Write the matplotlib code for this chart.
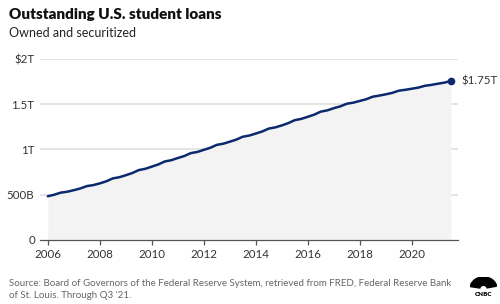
import matplotlib
matplotlib.use('Agg')
import matplotlib.pyplot as plt
from matplotlib.patches import Wedge

# Student loans owned and securitized, billions of dollars, quarterly 2006 Q1 - 2021 Q3
years = list(range(2006, 2022))
loans = [
    483, 500, 523, 533,
    550, 569, 595, 606,
    625, 648, 680, 693,
    715, 739, 772, 786,
    810, 834, 867, 881,
    905, 927, 959, 972,
    995, 1018, 1050, 1063,
    1085, 1108, 1140, 1153,
    1175, 1198, 1230, 1243,
    1265, 1290, 1323, 1337,
    1360, 1384, 1417, 1431,
    1455, 1475, 1504, 1516,
    1535, 1554, 1582, 1594,
    1608, 1624, 1648, 1658,
    1670, 1682, 1702, 1712,
    1725, 1737, 1755,
]
dates = [y + q / 4 for y in years for q in range(4)][:len(loans)]

y_ticks = [0, 500, 1000, 1500, 2000]
y_labels = ['0', '500B', '1T', '1.5T', '$2T']
x_ticks = list(range(2006, 2021, 2))
end_label = '$1.75T'

plt.rcParams['font.family'] = ['Lato', 'DejaVu Sans']
navy = '#0b2a6e'
grey_text = '#333333'

fig = plt.figure(figsize=(5, 3.04), dpi=100)
ax = fig.add_axes([0.08, 0.2105, 0.836, 0.596])

ax.fill_between(dates, loans, 0, color='#f3f3f3', lw=0, zorder=1)
ax.plot(dates, loans, color=navy, lw=1.8, zorder=3, solid_capstyle='round')
ax.plot(dates[-1], loans[-1], 'o', color=navy, ms=4.5, zorder=4)
ax.annotate(end_label, xy=(dates[-1], loans[-1]), xytext=(8, 0),
            textcoords='offset points', va='center', ha='left',
            fontsize=8.3, color=grey_text)

ax.set_xlim(2005.7, 2021.78)
ax.set_ylim(0, 2000)
ax.set_yticks(y_ticks[1:])
ax.set_yticklabels(y_labels[1:])
ax.set_xticks(x_ticks)
ax.set_xticklabels([str(x) for x in x_ticks])
ax.grid(axis='y', color='#e2e2e2', lw=1.3, zorder=0)
ax.set_axisbelow(True)

for s in ['top', 'right', 'left']:
    ax.spines[s].set_visible(False)
ax.spines['bottom'].set_color('#555555')
ax.spines['bottom'].set_linewidth(0.9)
ax.tick_params(axis='y', length=0, pad=4, labelsize=8.3, labelcolor=grey_text)
ax.tick_params(axis='x', length=3.5, width=0.9, color='#555555', pad=3,
               labelsize=8.3, labelcolor=grey_text)
# zero label sits on the axis line
ax.text(-0.012, 0, y_labels[0], transform=ax.get_yaxis_transform(),
        ha='right', va='center', fontsize=8.3, color=grey_text)

fig.text(0.018, 0.953, 'Outstanding U.S. student loans', fontsize=11,
         fontweight='heavy', color='#111111', va='center')
fig.text(0.018, 0.893, 'Owned and securitized', fontsize=9,
         color='#222222', va='center')

fig.text(0.018, 0.047, 'Source: Board of Governors of the Federal Reserve System, '
         'retrieved from FRED, Federal Reserve Bank\nof St. Louis. Through Q3 \'21.',
         fontsize=7.0, color='#666666', va='center', linespacing=1.45)

# small CNBC peacock mark
lax = fig.add_axes([0.94, 0.02, 0.054, 0.07])
lax.set_xlim(-1, 1)
lax.set_ylim(-0.8, 1.02)
lax.axis('off')
for a in range(6):
    th1 = 10 + a * 27
    lax.add_patch(Wedge((0, 0), 1.0, th1 + 2, th1 + 25, width=0.72, color='black'))
lax.text(0, -0.5, 'CNBC', ha='center', va='center', fontsize=4.5,
         fontweight='heavy', color='black')

fig.savefig('out.png', dpi=100)
